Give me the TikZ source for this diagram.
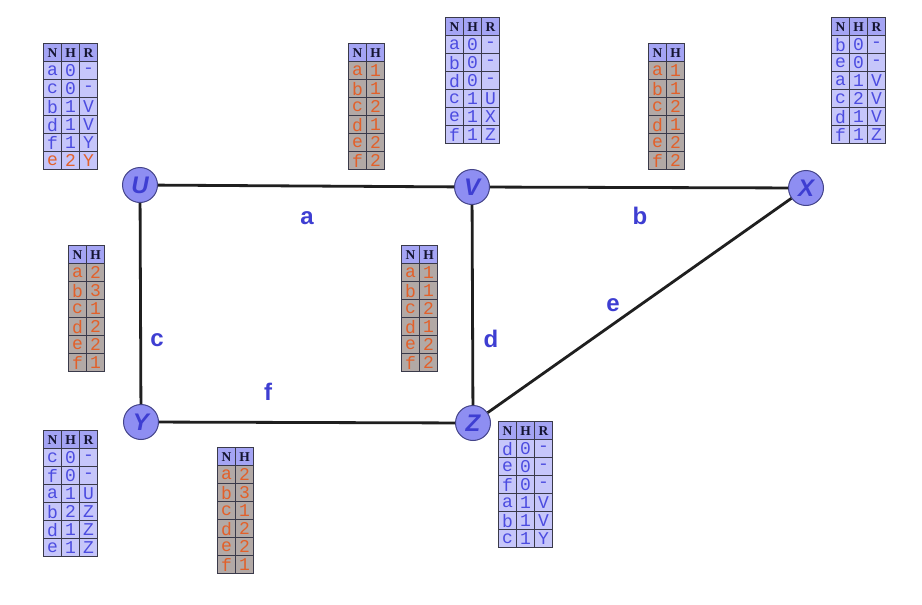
\documentclass[tikz,border=0pt]{standalone}
\usepackage{fontspec}
\usetikzlibrary{matrix}
\newfontfamily\monof{Liberation Mono}
\newfontfamily\hdrfont{Liberation Serif}
\newfontfamily\lblfont{Liberation Sans}
\definecolor{hdr}{HTML}{A4A4F4}
\definecolor{hdrtext}{HTML}{141430}
\definecolor{cellb}{HTML}{C6C6FA}
\definecolor{textb}{HTML}{4C4CE0}
\definecolor{cellg}{HTML}{B2A9A6}
\definecolor{texto}{HTML}{E2602A}
\definecolor{gridc}{HTML}{3A3A4A}
\definecolor{vfill}{HTML}{8E8EF2}
\definecolor{vdraw}{HTML}{44448A}
\definecolor{vtext}{HTML}{3E3ED2}
\tikzset{
  tbl/.style={matrix of nodes, anchor=north west, inner sep=0pt,
    column sep=-0.8pt, row sep=-0.8pt, ampersand replacement=\&,
    nodes={draw=gridc, line width=0.8pt, minimum width=18pt, minimum height=18pt,
      inner sep=0pt, font=\monof\fontsize{18}{18}\selectfont, anchor=center}},
  hdrrow/.style={row 1/.style={nodes={fill=hdr, text=hdrtext, font=\hdrfont\bfseries\fontsize{13.5}{13.5}\selectfont}}},
  bluetbl/.style={tbl, nodes={fill=cellb, text=textb}, hdrrow},
  greytbl/.style={tbl, nodes={fill=cellg, text=texto}, hdrrow},
  vertex/.style={circle, draw=vdraw, line width=1pt, fill=vfill, minimum size=35pt, inner sep=0pt,
    text=vtext, font=\lblfont\bfseries\itshape\fontsize{24}{24}\selectfont},
  edge/.style={line width=2.8pt, draw=black!88},
  elabel/.style={text=vtext, font=\lblfont\bfseries\fontsize{24}{24}\selectfont}
}
\begin{document}
\begin{tikzpicture}[x=1pt,y=-1pt]
\fill[white] (0,0) rectangle (922,605);
\useasboundingbox (0,0) rectangle (922,605);
% vertices
\node[vertex] (U) at (140,185) {U};
\node[vertex] (V) at (472,187) {V};
\node[vertex] (X) at (806,188) {X};
\node[vertex] (Y) at (141,422) {Y};
\node[vertex] (Z) at (473,423) {Z};
% edges
\draw[edge] (U) -- (V);
\draw[edge] (V) -- (X);
\draw[edge] (U) -- (Y);
\draw[edge] (V) -- (Z);
\draw[edge] (Y) -- (Z);
\draw[edge] (Z) -- (X);
% edge labels
\node[elabel] (la) at (307,218) {a};
\node[elabel] (lb) at (640,216) {b};
\node[elabel] (lc) at (157,340) {c};
\node[elabel] (ld) at (491,339) {d};
\node[elabel] (le) at (613,305) {e};
\node[elabel] (lf) at (268,392) {f};
% tables
\matrix (tU) [bluetbl, row 7/.style={nodes={text=texto}}] at (43,43) {
N \& H \& R \\ a \& 0 \& - \\ c \& 0 \& - \\ b \& 1 \& V \\ d \& 1 \& V \\ f \& 1 \& Y \\ e \& 2 \& Y \\};
\matrix (tVh) [greytbl] at (348,43) {
N \& H \\ a \& 1 \\ b \& 1 \\ c \& 2 \\ d \& 1 \\ e \& 2 \\ f \& 2 \\};
\matrix (tV) [bluetbl] at (445,17) {
N \& H \& R \\ a \& 0 \& - \\ b \& 0 \& - \\ d \& 0 \& - \\ c \& 1 \& U \\ e \& 1 \& X \\ f \& 1 \& Z \\};
\matrix (tXh) [greytbl] at (648,43) {
N \& H \\ a \& 1 \\ b \& 1 \\ c \& 2 \\ d \& 1 \\ e \& 2 \\ f \& 2 \\};
\matrix (tX) [bluetbl] at (831,17) {
N \& H \& R \\ b \& 0 \& - \\ e \& 0 \& - \\ a \& 1 \& V \\ c \& 2 \& V \\ d \& 1 \& V \\ f \& 1 \& Z \\};
\matrix (tUh) [greytbl] at (68,245) {
N \& H \\ a \& 2 \\ b \& 3 \\ c \& 1 \\ d \& 2 \\ e \& 2 \\ f \& 1 \\};
\matrix (tC) [greytbl] at (401,245) {
N \& H \\ a \& 1 \\ b \& 1 \\ c \& 2 \\ d \& 1 \\ e \& 2 \\ f \& 2 \\};
\matrix (tY) [bluetbl] at (43,430) {
N \& H \& R \\ c \& 0 \& - \\ f \& 0 \& - \\ a \& 1 \& U \\ b \& 2 \& Z \\ d \& 1 \& Z \\ e \& 1 \& Z \\};
\matrix (tYh) [greytbl] at (217,447) {
N \& H \\ a \& 2 \\ b \& 3 \\ c \& 1 \\ d \& 2 \\ e \& 2 \\ f \& 1 \\};
\matrix (tZ) [bluetbl] at (498,421) {
N \& H \& R \\ d \& 0 \& - \\ e \& 0 \& - \\ f \& 0 \& - \\ a \& 1 \& V \\ b \& 1 \& V \\ c \& 1 \& Y \\};
\end{tikzpicture}
\end{document}
